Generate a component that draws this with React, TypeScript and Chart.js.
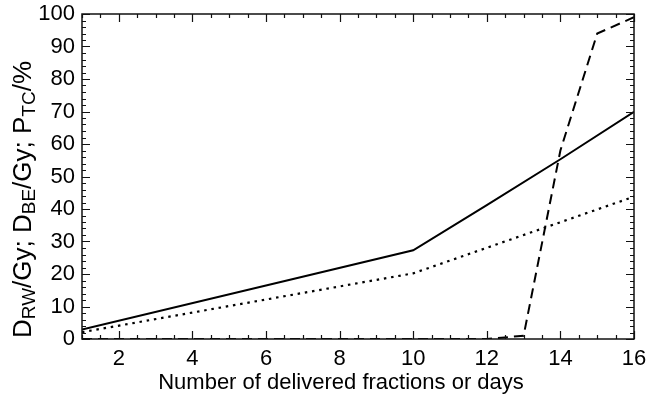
import React, { useEffect, useRef } from "react";
import { Chart, registerables } from "chart.js";

Chart.register(...registerables);

// Solid line (D_RW)
const SOLID_X = [1, 10, 12, 14, 16];
const SOLID_Y = [2.9, 27.3, 41.2, 55.3, 69.9];
// Dotted line (D_BE)
const DOTTED_X = [1, 10, 16];
const DOTTED_Y = [2.1, 20.2, 43.8];
// Dashed line (P_TC)
const DASHED_X = [1, 12, 13, 14, 15, 16];
const DASHED_Y = [0, 0, 1, 58, 94, 99];

const X_TICKS = [2, 4, 6, 8, 10, 12, 14, 16];
const Y_TICKS = [0, 10, 20, 30, 40, 50, 60, 70, 80, 90, 100];
const X_MINOR_STEP = 0.5;
const Y_MINOR_STEP = 2;

const X_TITLE = "Number of delivered fractions or days";
const Y_TITLE_PARTS: [string, boolean][] = [
  ["D", false],
  ["RW", true],
  ["/Gy; D", false],
  ["BE", true],
  ["/Gy; P", false],
  ["TC", true],
  ["/%", false],
];

const FONT = "'Liberation Sans', Arial, Helvetica, sans-serif";

const pts = (xs: number[], ys: number[]) => xs.map((x, i) => ({ x, y: ys[i] }));

const framePlugin = {
  id: "frameAndTitles",
  afterDatasetsDraw(chart: any) {
    const { ctx, chartArea } = chart;
    const xs = chart.scales.x;
    const ys = chart.scales.y;
    const { left, right, top, bottom } = chartArea;
    ctx.save();
    ctx.strokeStyle = "#111";
    ctx.lineWidth = 1.5;
    ctx.setLineDash([]);
    ctx.strokeRect(left, top, right - left, bottom - top);
    ctx.lineWidth = 1.2;
    ctx.beginPath();
    for (let v = xs.min; v <= xs.max + 1e-9; v += X_MINOR_STEP) {
      const major = Math.abs(v / 2 - Math.round(v / 2)) < 1e-9;
      const len = major ? 8 : 4;
      const px = Math.round(xs.getPixelForValue(v)) + 0.5;
      ctx.moveTo(px, bottom);
      ctx.lineTo(px, bottom - len);
      ctx.moveTo(px, top);
      ctx.lineTo(px, top + len);
    }
    for (let v = ys.min; v <= ys.max + 1e-9; v += Y_MINOR_STEP) {
      const major = Math.abs(v / 10 - Math.round(v / 10)) < 1e-9;
      const len = major ? 8 : 4;
      const py = Math.round(ys.getPixelForValue(v)) + 0.5;
      ctx.moveTo(left, py);
      ctx.lineTo(left + len, py);
      ctx.moveTo(right, py);
      ctx.lineTo(right - len, py);
    }
    ctx.stroke();

    // x title
    ctx.fillStyle = "#000";
    ctx.font = `22px ${FONT}`;
    ctx.textAlign = "center";
    ctx.textBaseline = "middle";
    ctx.fillText(X_TITLE, 341, 383);

    // y title with subscripts
    ctx.translate(31, 338);
    ctx.rotate(-Math.PI / 2);
    ctx.textAlign = "left";
    ctx.textBaseline = "alphabetic";
    let x = 0;
    for (const [txt, sub] of Y_TITLE_PARTS) {
      ctx.font = sub ? `19px ${FONT}` : `26px ${FONT}`;
      ctx.fillText(txt, x, sub ? 4 : 0);
      x += ctx.measureText(txt).width;
    }
    ctx.restore();
  },
};

export default function App() {
  const ref = useRef<HTMLCanvasElement | null>(null);
  useEffect(() => {
    if (!ref.current) return;
    const chart = new Chart(ref.current, {
      type: "line",
      data: {
        datasets: [
          {
            data: pts(SOLID_X, SOLID_Y),
            borderColor: "#000",
            borderWidth: 2,
            pointRadius: 0,
            fill: false,
          },
          {
            data: pts(DOTTED_X, DOTTED_Y),
            borderColor: "#000",
            borderWidth: 2.2,
            borderDash: [2.5, 4.8],
            pointRadius: 0,
            fill: false,
          },
          {
            data: pts(DASHED_X, DASHED_Y),
            borderColor: "#000",
            borderWidth: 2,
            borderDash: [10, 6],
            pointRadius: 0,
            fill: false,
          },
        ],
      },
      options: {
        responsive: false,
        animation: false,
        layout: { padding: { top: 14, right: 14, left: 0, bottom: 0 } },
        plugins: { legend: { display: false }, tooltip: { enabled: false } },
        scales: {
          x: {
            type: "linear",
            min: 1,
            max: 16,
            grid: { display: false, drawTicks: false },
            border: { display: false },
            afterBuildTicks: (s: any) => {
              s.ticks = X_TICKS.map((v) => ({ value: v }));
            },
            afterFit: (s: any) => {
              s.height = 69;
              s.paddingLeft = 0;
              s.paddingRight = 0;
            },
            ticks: {
              color: "#000",
              font: { family: FONT, size: 22 },
              padding: 7,
              maxRotation: 0,
              autoSkip: false,
            },
          },
          y: {
            type: "linear",
            min: 0,
            max: 100,
            grid: { display: false, drawTicks: false },
            border: { display: false },
            afterBuildTicks: (s: any) => {
              s.ticks = Y_TICKS.map((v) => ({ value: v }));
            },
            afterFit: (s: any) => {
              s.width = 82;
              s.paddingTop = 0;
              s.paddingBottom = 0;
            },
            ticks: {
              color: "#000",
              font: { family: FONT, size: 22 },
              padding: 7,
              autoSkip: false,
            },
          },
        },
      },
      plugins: [framePlugin],
    });
    return () => chart.destroy();
  }, []);
  return (
    <div style={{ position: "absolute", left: 0, top: 0, width: 648, height: 408, background: "#fff" }}>
      <canvas ref={ref} width={648} height={408} style={{ display: "block" }} />
    </div>
  );
}
